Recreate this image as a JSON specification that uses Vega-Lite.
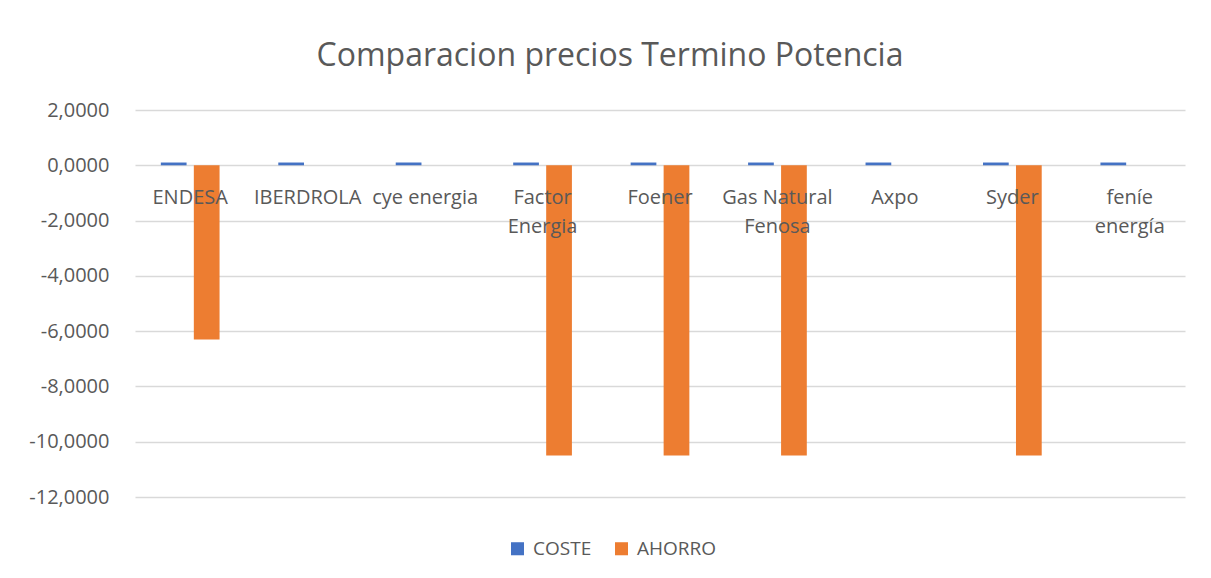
{
  "$schema": "https://vega.github.io/schema/vega-lite/v6.json",
  "width": 1050,
  "height": 387,
  "autosize": {"type": "none"},
  "padding": {"left": 135, "top": 110, "right": 26, "bottom": 81},
  "background": "white",
  "config": {
    "font": "Open Sans",
    "view": {"stroke": null}
  },
  "title": {
    "text": "Comparacion precios Termino Potencia",
    "fontSize": 32,
    "fontWeight": "normal",
    "color": "#595959",
    "anchor": "middle",
    "frame": "group",
    "dx": -50,
    "offset": 27
  },
  "data": {
    "values": [
      {"empresa": "ENDESA", "serie": "COSTE", "valor": 0.1},
      {"empresa": "ENDESA", "serie": "AHORRO", "valor": -6.3},
      {"empresa": "IBERDROLA", "serie": "COSTE", "valor": 0.1},
      {"empresa": "IBERDROLA", "serie": "AHORRO", "valor": 0},
      {"empresa": "cye energia", "serie": "COSTE", "valor": 0.1},
      {"empresa": "cye energia", "serie": "AHORRO", "valor": 0},
      {"empresa": "Factor Energia", "serie": "COSTE", "valor": 0.1},
      {"empresa": "Factor Energia", "serie": "AHORRO", "valor": -10.5},
      {"empresa": "Foener", "serie": "COSTE", "valor": 0.1},
      {"empresa": "Foener", "serie": "AHORRO", "valor": -10.5},
      {"empresa": "Gas Natural Fenosa", "serie": "COSTE", "valor": 0.1},
      {"empresa": "Gas Natural Fenosa", "serie": "AHORRO", "valor": -10.5},
      {"empresa": "Axpo", "serie": "COSTE", "valor": 0.1},
      {"empresa": "Axpo", "serie": "AHORRO", "valor": 0},
      {"empresa": "Syder", "serie": "COSTE", "valor": 0.1},
      {"empresa": "Syder", "serie": "AHORRO", "valor": -10.5},
      {"empresa": "feníe energía", "serie": "COSTE", "valor": 0.1},
      {"empresa": "feníe energía", "serie": "AHORRO", "valor": 0}
    ]
  },
  "mark": {"type": "bar"},
  "encoding": {
    "x": {
      "field": "empresa",
      "type": "nominal",
      "sort": null,
      "scale": {"paddingInner": 0.5, "paddingOuter": 0.22},
      "axis": {
        "title": null,
        "orient": "bottom",
        "offset": -331,
        "domain": false,
        "ticks": false,
        "grid": false,
        "labelAngle": 0,
        "labelFontSize": 20,
        "labelColor": "#595959",
        "labelPadding": 21,
        "labelLineHeight": 29,
        "labelOverlap": false,
        "labelLimit": 0,
        "labelBaseline": "top",
        "zindex": 1,
        "labelExpr": "datum.value == 'Factor Energia' ? ['Factor', 'Energia'] : datum.value == 'Gas Natural Fenosa' ? ['Gas Natural', 'Fenosa'] : datum.value == 'feníe energía' ? ['feníe', 'energía'] : datum.value"
      }
    },
    "xOffset": {
      "field": "serie",
      "type": "nominal",
      "scale": {"domain": ["COSTE", "AHORRO"], "paddingInner": 0.22}
    },
    "y": {
      "field": "valor",
      "type": "quantitative",
      "scale": {"domain": [-12, 2], "nice": false, "zero": false},
      "axis": {
        "title": null,
        "values": [-12, -10, -8, -6, -4, -2, 0, 2],
        "domain": false,
        "ticks": false,
        "grid": true,
        "gridColor": "#d9d9d9",
        "gridWidth": 1.3,
        "labelFontSize": 20,
        "labelColor": "#595959",
        "labelPadding": 26,
        "labelExpr": "replace(replace(format(datum.value, '.4f'), '.', ','), '−', '-')",
        "zindex": 0
      }
    },
    "color": {
      "field": "serie",
      "type": "nominal",
      "scale": {"domain": ["COSTE", "AHORRO"], "range": ["#4472C4", "#ED7D31"]},
      "legend": {
        "title": null,
        "orient": "none",
        "legendX": 373,
        "legendY": 429,
        "direction": "horizontal",
        "symbolType": "square",
        "symbolSize": 170,
        "symbolStrokeWidth": 0,
        "labelFontSize": 19,
        "labelColor": "#595959",
        "columnPadding": 20,
        "labelOffset": 6
      }
    }
  }
}
